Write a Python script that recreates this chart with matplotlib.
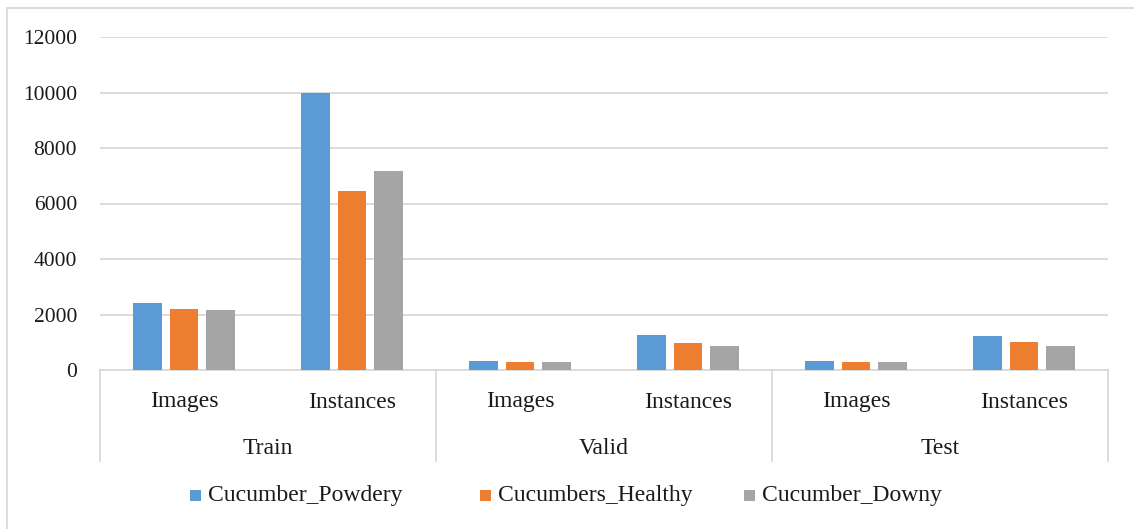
import matplotlib
matplotlib.use("Agg")
import matplotlib.pyplot as plt
import matplotlib.transforms as mtransforms
import numpy as np

plt.rcParams['font.family'] = ['Liberation Serif', 'DejaVu Serif']

# Data
groups = ["Train", "Valid", "Test"]
subcats = ["Images", "Instances"]
series_names = ["Cucumber_Powdery", "Cucumbers_Healthy", "Cucumber_Downy"]
powdery = [2425, 9980, 325, 1260, 325, 1215]
healthy = [2200, 6450, 290, 960, 300, 1000]
downy = [2150, 7180, 285, 875, 275, 875]
colors = ["#5B9BD5", "#ED7D31", "#A5A5A5"]
yticks = [0, 2000, 4000, 6000, 8000, 10000, 12000]

W, H = 1134, 529
fig = plt.figure(figsize=(W / 100, H / 100), dpi=100)
fig.patch.set_facecolor("white")

# Plot area in pixels: x 100..1108, y 37..370
ax = fig.add_axes([100 / W, (H - 370) / H, 1008 / W, 333 / H])
ax.set_xlim(-0.5, 5.5)
ax.set_ylim(0, 12000)

x = np.arange(len(powdery))
bw = 0.1726
step = 0.22
for i, (vals, c, name) in enumerate(zip([powdery, healthy, downy], colors, series_names)):
    ax.bar(x + (i - 1) * step, vals, width=bw, color=c, label=name, zorder=3)

ax.set_yticks(yticks)
ax.set_yticklabels([str(v) for v in yticks], fontsize=15.5, color="#1a1a1a")
ax.tick_params(axis="y", length=0, pad=16.5)
ax.tick_params(axis="x", length=0, labelbottom=False)
ax.yaxis.grid(True, color="#d9d9d9", linewidth=1.3, zorder=0)
for s in ["top", "right", "left"]:
    ax.spines[s].set_visible(False)
ax.spines["bottom"].set_color("#d9d9d9")
ax.spines["bottom"].set_linewidth(1.3)
ax.set_xticks([])

# Multi-level category axis
trans = mtransforms.blended_transform_factory(ax.transData, ax.transAxes)
px = 1 / 333
for xb in [-0.5, 1.5, 3.5, 5.5]:
    ax.plot([xb, xb], [0, -91 * px], transform=trans, color="#d9d9d9",
            linewidth=1.3, clip_on=False)
for k, xc in enumerate(x):
    ax.text(xc, -32 * px, subcats[k % 2], transform=trans, ha="center", va="center",
            fontsize=17, color="#1a1a1a")
for g, name in enumerate(groups):
    ax.text(2 * g + 0.5, -78 * px, name, transform=trans, ha="center", va="center",
            fontsize=17, color="#1a1a1a")

# Legend: one swatch + label per series, laid out along the bottom
legend_x = [190, 480, 744]
sw = 11
ly = 495
for lx, c, name in zip(legend_x, colors, series_names):
    fig.add_artist(plt.Rectangle((lx / W, (H - ly - sw / 2) / H), sw / W, sw / H,
                                 transform=fig.transFigure, facecolor=c,
                                 edgecolor="none"))
    fig.text((lx + sw + 7) / W, (H - ly) / H, name, ha="left", va="center",
             fontsize=17, color="#1a1a1a")

# Chart border
border = plt.Rectangle((7 / W, -0.01), (W + 10) / W, (H - 8) / H + 0.01,
                       transform=fig.transFigure, fill=False, edgecolor="#d9d9d9",
                       linewidth=1.3)
fig.add_artist(border)

fig.savefig("out.png", dpi=100, facecolor="white")
